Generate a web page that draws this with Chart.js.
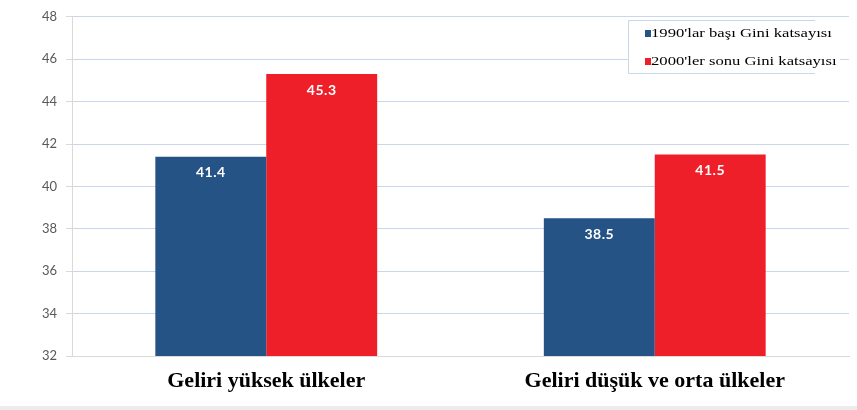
<!DOCTYPE html>
<html>
<head>
    <title>Gini katsayısı</title>
    <style>
        html, body { margin: 0; padding: 0; background: #ffffff; }
        #wrap { width: 857px; height: 410px; position: relative; }
    </style>
</head>
<body>
    <div id="wrap">
        <canvas id="giniChart"></canvas>
    </div>

    <script src="https://cdn.jsdelivr.net/npm/chart.js"></script>
    <script type="text/javascript">
        const categories = ['Geliri yüksek ülkeler', 'Geliri düşük ve orta ülkeler'];
        const early1990s = [41.4, 38.5];
        const late2000s = [45.3, 41.5];
        const seriesNames = ["1990'lar başı Gini katsayısı", "2000'ler sonu Gini katsayısı"];
        const yTicks = [32, 34, 36, 38, 40, 42, 44, 46, 48];

        // white values near the top of each bar
        const barValues = {
            id: 'barValues',
            afterDatasetsDraw(chart) {
                const ctx = chart.ctx;
                ctx.save();
                ctx.fillStyle = '#ffffff';
                ctx.font = 'bold 14px Lato, "Open Sans", sans-serif';
                ctx.letterSpacing = '0.5px';
                ctx.textAlign = 'center';
                ctx.textBaseline = 'middle';
                chart.data.datasets.forEach((ds, i) => {
                    chart.getDatasetMeta(i).data.forEach((bar, j) => {
                        ctx.fillText(ds.data[j].toFixed(1), bar.x, bar.y + 16);
                    });
                });
                ctx.restore();
            }
        };

        // boxed legend inside the plot, top right (text runs past the box, as in the original)
        const boxLegend = {
            id: 'boxLegend',
            afterDraw(chart) {
                const ctx = chart.ctx;
                const x = 628, y = 20, w = 187, h = 53;
                ctx.save();
                ctx.fillStyle = '#ffffff';
                ctx.fillRect(x, y, w + 25, h);
                ctx.strokeStyle = '#c9d7ea';
                ctx.lineWidth = 1;
                ctx.beginPath();
                ctx.moveTo(x + w, y + 0.5);
                ctx.lineTo(x + 0.5, y + 0.5);
                ctx.lineTo(x + 0.5, y + h + 0.5);
                ctx.lineTo(x + w, y + h + 0.5);
                ctx.stroke();
                ctx.font = '13px "Liberation Serif", "DejaVu Serif", serif';
                ctx.textBaseline = 'middle';
                ctx.textAlign = 'left';
                chart.data.datasets.forEach((ds, i) => {
                    const cy = y + 13 + i * 28;
                    ctx.fillStyle = ds.backgroundColor;
                    ctx.fillRect(x + 17, cy - 3, 6, 7);
                    ctx.save();
                    ctx.translate(x + 23, cy + 1);
                    ctx.scale(1.28, 1);
                    ctx.fillStyle = '#000000';
                    ctx.fillText(ds.label, 0, 0);
                    ctx.restore();
                });
                // grey strip at the bottom of the picture
                ctx.fillStyle = '#ececec';
                ctx.fillRect(0, 406, chart.width, 4);
                ctx.restore();
            }
        };

        const giniContext = document.getElementById('giniChart');
        window.giniChart = new Chart(giniContext, {
            type: 'bar',
            data: {
                labels: categories,
                datasets: [
                    {
                        label: seriesNames[0],
                        data: early1990s,
                        backgroundColor: '#255386',
                        categoryPercentage: 0.571,
                        barPercentage: 1.0
                    },
                    {
                        label: seriesNames[1],
                        data: late2000s,
                        backgroundColor: '#ee1f28',
                        categoryPercentage: 0.571,
                        barPercentage: 1.0
                    }
                ]
            },
            options: {
                responsive: true,
                maintainAspectRatio: false,
                animation: false,
                layout: {
                    padding: { top: 12, right: 8, left: 0, bottom: 0 }
                },
                plugins: {
                    legend: { display: false },
                    tooltip: { enabled: false }
                },
                scales: {
                    x: {
                        grid: { display: false },
                        border: { display: true, color: '#d9d9d9' },
                        ticks: {
                            color: '#000000',
                            padding: 4,
                            font: { family: '"Liberation Serif", "DejaVu Serif", serif', size: 22, weight: 'bold' }
                        },
                        afterFit(scale) { scale.height = 54; }
                    },
                    y: {
                        min: 32,
                        max: 48,
                        afterBuildTicks(scale) {
                            scale.ticks = yTicks.map(v => ({ value: v }));
                        },
                        grid: {
                            color: '#c9d7ea',
                            tickLength: 6,
                            tickColor: '#d9d9d9'
                        },
                        border: { display: true, color: '#d9d9d9' },
                        ticks: {
                            color: '#595959',
                            padding: 9,
                            font: { family: 'Lato, "Open Sans", sans-serif', size: 13 }
                        },
                        afterFit(scale) { scale.width = 72; }
                    }
                }
            },
            plugins: [barValues, boxLegend]
        });
    </script>
</body>
</html>
